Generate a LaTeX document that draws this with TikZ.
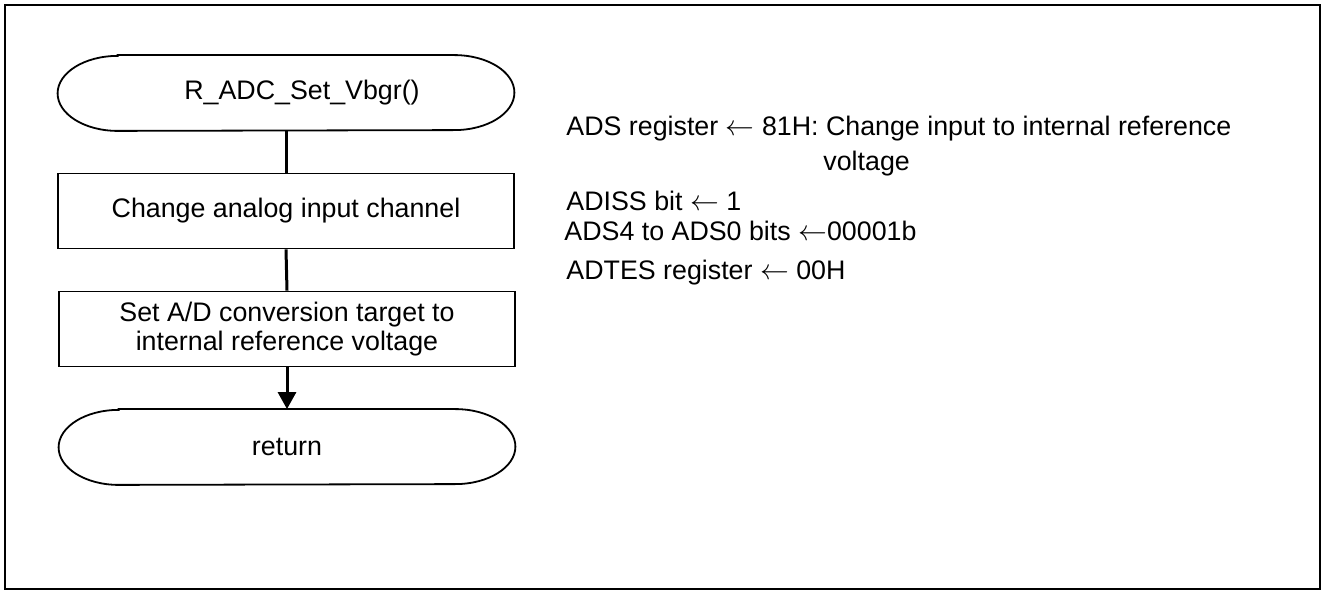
\documentclass[tikz,border=0pt]{standalone}
\usepackage{fontspec}
\setmainfont{Liberation Sans}
\usetikzlibrary{arrows.meta}

% outline of a start/end terminal: flat top and bottom, half-ellipse ends
\newcommand{\termline}[1]{%
  \draw[line width=0.9pt] ([xshift=30pt]#1.north west) -- ([xshift=-30pt]#1.north east)
    arc[start angle=90, end angle=-90, x radius=30pt, y radius=18.75pt]
    -- ([xshift=30pt]#1.south west)
    arc[start angle=270, end angle=90, x radius=30pt, y radius=18.75pt] -- cycle;}

\tikzset{
  every node/.style={font=\fontsize{13.4}{14.5}\selectfont},
  terminal/.style={inner sep=0pt, minimum width=228pt, minimum height=37.5pt},
  process/.style={draw, line width=0.9pt, inner sep=0pt, minimum width=228pt,
    minimum height=37.5pt, align=center},
  flow/.style={line width=1.5pt},
  note/.style={anchor=west, inner sep=0pt}
}

\begin{document}
\begin{tikzpicture}[x=0.5pt, y=-0.5pt]
  \useasboundingbox (0,0) rectangle (1324,593);
  % Frame round the whole picture
  \draw[line width=1pt] (5,5) rectangle (1320,589);

  % Flow chart
  \node[terminal] (start) at (286,93) {};
  \termline{start}
  \node at (302,93) (starttext) {R\_ADC\_Set\_Vbgr()};
  \node[process] (chan) at (286,211) {Change analog input channel};
  \node[process] (target) at (287,329) {Set A/D conversion target to\\internal reference voltage};
  \node[terminal] (ret) at (287,447) {return};
  \termline{ret}

  \draw[flow] (start.south) -- (chan.north);
  \draw[flow] (chan.south) -- (target.north);
  \draw[flow, -{Triangle[width=9pt, length=8.5pt]}] (target.south) -- (ret.north);

  % Comments on the right
  \node[note] (ads) at (566,129) {ADS register $\leftarrow$ 81H: Change input to internal reference};
  \node[note] (adsvolt) at (823,164) {voltage};
  \node[note] (adiss) at (566,201) {ADISS bit $\leftarrow$ 1};
  \node[note] (adsbits) at (564,231) {ADS4 to ADS0 bits $\leftarrow$00001b};
  \node[note] (adtes) at (566,273) {ADTES register $\leftarrow$ 00H};
\end{tikzpicture}
\end{document}
